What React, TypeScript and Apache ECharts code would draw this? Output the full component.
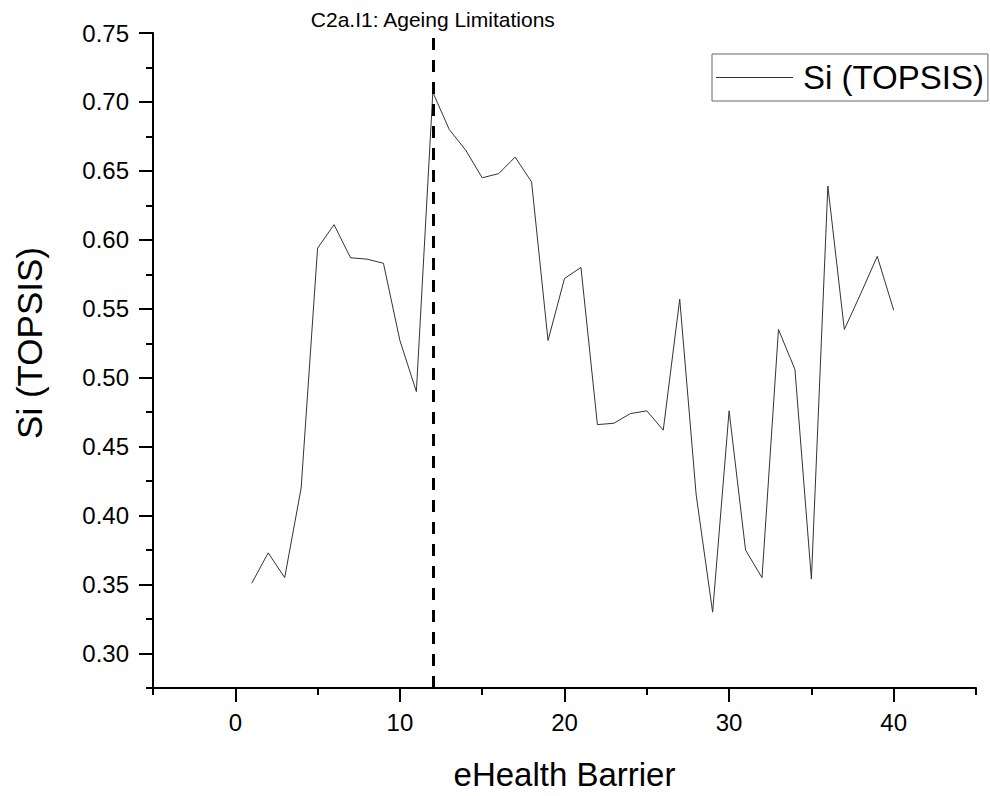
import React, { useEffect, useRef } from "react";
import * as echarts from "echarts";

const barriers = [
  1, 2, 3, 4, 5, 6, 7, 8, 9, 10, 11, 12, 13, 14, 15, 16, 17, 18, 19, 20,
  21, 22, 23, 24, 25, 26, 27, 28, 29, 30, 31, 32, 33, 34, 35, 36, 37, 38, 39, 40,
];
const siValues = [
  0.351, 0.373, 0.355, 0.42, 0.594, 0.611, 0.587, 0.586, 0.583, 0.527,
  0.49, 0.707, 0.68, 0.665, 0.645, 0.648, 0.66, 0.642, 0.527, 0.572,
  0.58, 0.466, 0.467, 0.474, 0.476, 0.462, 0.557, 0.415, 0.33, 0.476,
  0.375, 0.355, 0.535, 0.506, 0.354, 0.639, 0.535, 0.561, 0.588, 0.549,
];
const xMajorTicks = [0, 10, 20, 30, 40];
const xMinorTicks = [-5, 5, 15, 25, 35, 45];
const yMajorTicks = [0.3, 0.35, 0.4, 0.45, 0.5, 0.55, 0.6, 0.65, 0.7, 0.75];
const yMinorTicks = [0.275, 0.325, 0.375, 0.425, 0.475, 0.525, 0.575, 0.625, 0.675, 0.725];
const markerX = 12;
const markerLabel = "C2a.I1: Ageing Limitations";
const seriesName = "Si (TOPSIS)";
const xTitle = "eHealth Barrier";
const yTitle = "Si (TOPSIS)";

const FONT = '"Liberation Sans", Arial, sans-serif';

export default function App() {
  const ref = useRef<HTMLDivElement>(null);
  useEffect(() => {
    if (!ref.current) return;
    const chart = echarts.init(ref.current, undefined, { renderer: "svg" });
    const axisLine = { show: true, onZero: false, lineStyle: { color: "#000", width: 2 } };
    chart.setOption({
      animation: false,
      backgroundColor: "#fff",
      textStyle: { fontFamily: FONT, color: "#000" },
      grid: { left: 153, right: 14, top: 33, bottom: 101, containLabel: false },
      legend: {
        left: 712,
        top: 54,
        padding: [7, 4, 7, 4],
        borderColor: "#666",
        borderWidth: 1,
        itemWidth: 77,
        itemHeight: 1,
        icon: "rect",
        itemStyle: { color: "#333" },
        data: [seriesName],
        textStyle: { fontSize: 33, fontFamily: FONT, color: "#000", padding: [0, 0, 0, 5] },
      },
      graphic: [
        {
          type: "text",
          x: 29,
          y: 343,
          rotation: Math.PI / 2,
          style: {
            text: yTitle,
            font: `35px ${FONT}`,
            fill: "#000",
            textAlign: "center",
            textVerticalAlign: "middle",
          },
        },
      ],
      xAxis: [
        {
          type: "value",
          min: -5,
          max: 45,
          position: "bottom",
          name: xTitle,
          nameLocation: "middle",
          nameGap: 70,
          nameTextStyle: { fontSize: 33, fontFamily: FONT, color: "#000" },
          axisLine,
          splitLine: { show: false },
          axisTick: {
            show: true,
            inside: false,
            length: 14,
            customValues: xMajorTicks,
            lineStyle: { color: "#000", width: 2 },
          },
          axisLabel: {
            show: true,
            customValues: xMajorTicks,
            fontSize: 24,
            fontFamily: FONT,
            color: "#000",
            margin: 22,
          },
        },
        {
          type: "value",
          min: -5,
          max: 45,
          position: "bottom",
          axisLine: { show: false, onZero: false },
          splitLine: { show: false },
          axisTick: {
            show: true,
            inside: false,
            length: 7,
            customValues: xMinorTicks,
            lineStyle: { color: "#000", width: 2 },
          },
          axisLabel: { show: false },
        },
      ],
      yAxis: [
        {
          type: "value",
          min: 0.275,
          max: 0.75,
          position: "left",
          axisLine,
          splitLine: { show: false },
          axisTick: {
            show: true,
            inside: false,
            length: 14,
            customValues: yMajorTicks,
            lineStyle: { color: "#000", width: 2 },
          },
          axisLabel: {
            show: true,
            customValues: yMajorTicks,
            formatter: (v: number) => v.toFixed(2),
            fontSize: 24,
            fontFamily: FONT,
            color: "#000",
            margin: 24,
          },
        },
        {
          type: "value",
          min: 0.275,
          max: 0.75,
          position: "left",
          axisLine: { show: false, onZero: false },
          splitLine: { show: false },
          axisTick: {
            show: true,
            inside: false,
            length: 7,
            customValues: yMinorTicks,
            lineStyle: { color: "#000", width: 2 },
          },
          axisLabel: { show: false },
        },
      ],
      series: [
        {
          name: seriesName,
          type: "line",
          xAxisIndex: 0,
          yAxisIndex: 0,
          data: barriers.map((b, i) => [b, siValues[i]]),
          symbol: "none",
          showSymbol: false,
          lineStyle: { color: "#333", width: 1 },
          itemStyle: { color: "#333" },
          markLine: {
            silent: true,
            symbol: ["none", "none"],
            lineStyle: { color: "#000", width: 3, type: [12, 10] },
            label: {
              show: true,
              position: "end",
              formatter: markerLabel,
              fontSize: 21,
              fontFamily: FONT,
              color: "#000",
              distance: 3,
            },
            data: [{ xAxis: markerX }],
          },
        },
      ],
    });
    return () => chart.dispose();
  }, []);
  return (
    <div
      ref={ref}
      style={{ position: "fixed", left: 0, top: 0, width: 990, height: 796 }}
    />
  );
}
